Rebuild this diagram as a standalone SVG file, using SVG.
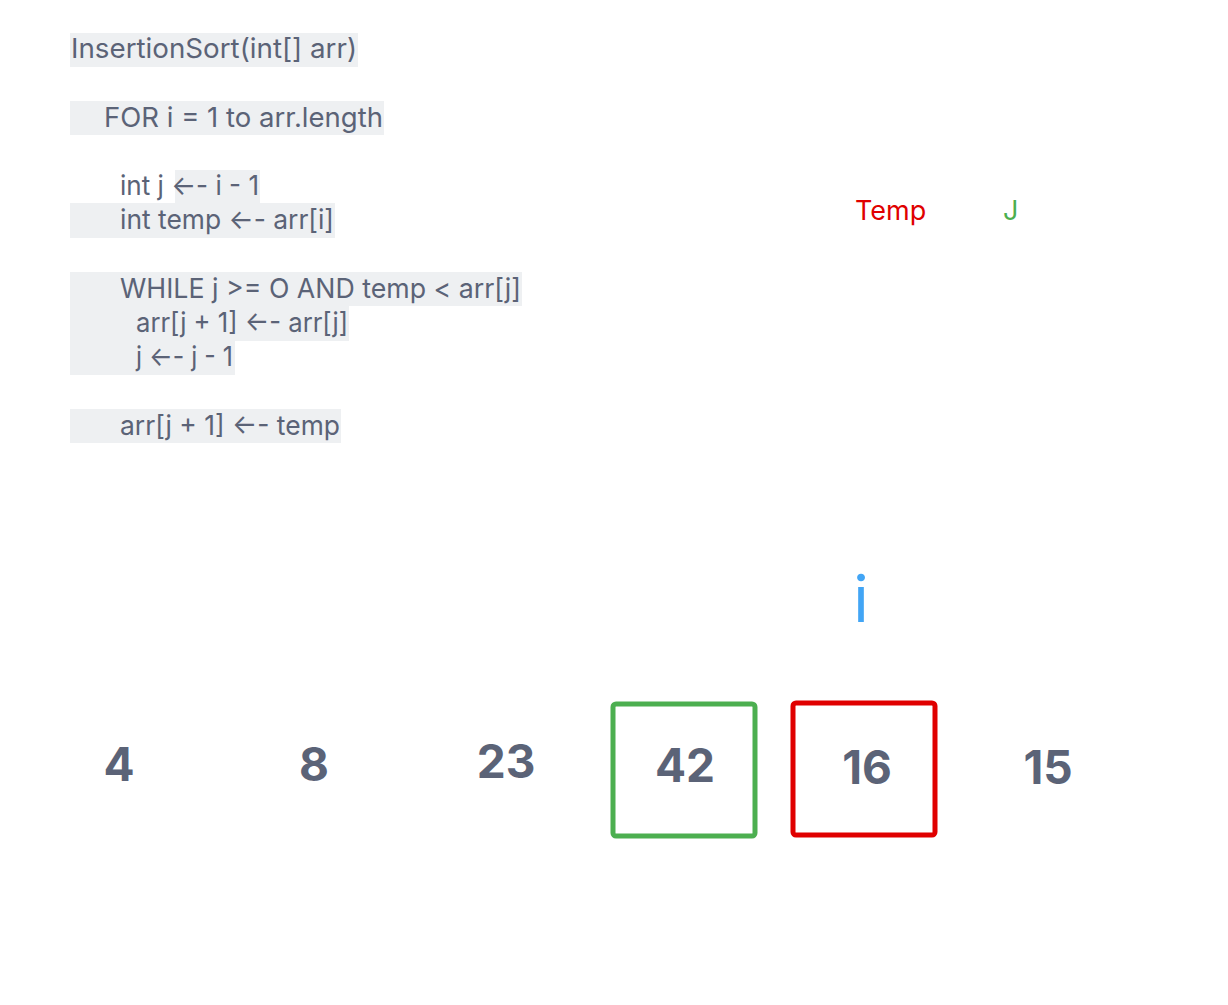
<svg xmlns="http://www.w3.org/2000/svg" width="1228" height="1005" viewBox="0 0 1228 1005">
<style>
.code{font-family:Inter,"Noto Sans",sans-serif;font-size:27.5px;fill:#5b6377}
.hl{fill:#eef0f2}
.num{font-family:Inter,"Liberation Sans",sans-serif;font-size:46px;font-weight:700;fill:#5b6377;text-anchor:middle}
.box{fill:none;stroke-width:5}
</style>
<rect width="1228" height="1005" fill="#ffffff"/>
<g id="code">
<rect class="hl" x="70" y="33" width="288" height="34"/>
<rect class="hl" x="70" y="101" width="314" height="34"/>
<rect class="hl" x="175" y="170" width="85" height="34"/>
<rect class="hl" x="70" y="203" width="265" height="35"/>
<rect class="hl" x="70" y="272" width="452" height="34"/>
<rect class="hl" x="70" y="306" width="279" height="35"/>
<rect class="hl" x="70" y="340" width="165" height="35"/>
<rect class="hl" x="70" y="409" width="271" height="34"/>
<text class="code" x="71" y="58" textLength="286" lengthAdjust="spacingAndGlyphs">InsertionSort(int[] arr)</text>
<text class="code" x="104" y="127" textLength="279" lengthAdjust="spacingAndGlyphs">FOR i = 1 to arr.length</text>
<text class="code" x="120" y="195" textLength="139" lengthAdjust="spacingAndGlyphs">int j ←- i - 1</text>
<text class="code" x="120" y="229" textLength="214" lengthAdjust="spacingAndGlyphs">int temp ←- arr[i]</text>
<text class="code" x="120" y="298" textLength="401" lengthAdjust="spacingAndGlyphs">WHILE j &gt;= O AND temp &lt; arr[j]</text>
<text class="code" x="136" y="332" textLength="212" lengthAdjust="spacingAndGlyphs">arr[j + 1] ←- arr[j]</text>
<text class="code" x="136" y="366" textLength="97" lengthAdjust="spacingAndGlyphs">j ←- j - 1</text>
<text class="code" x="120" y="435" textLength="220" lengthAdjust="spacingAndGlyphs">arr[j + 1] ←- temp</text>
</g>
<g id="labels">
<text x="855" y="220" font-family="Inter,sans-serif" font-size="27" fill="#e00000">Temp</text>
<text x="1003" y="220" font-family="Inter,sans-serif" font-size="27" fill="#4caf50">J</text>
<text x="861" y="622" font-family="Inter,sans-serif" font-size="64" fill="#42a5f5" text-anchor="middle">i</text>
</g>
<g id="cells">
<g id="c0"><text class="num" x="119" y="781">4</text></g>
<g id="c1"><text class="num" x="314" y="781">8</text></g>
<g id="c2"><text class="num" x="506" y="778">23</text></g>
<g id="c3"><rect class="box" x="613" y="704" width="142" height="132" rx="3" stroke="#4caf50"/><text class="num" x="685" y="782">42</text></g>
<g id="c4"><rect class="box" x="793" y="703" width="142" height="132" rx="3" stroke="#e00000"/><text class="num" x="867" y="784">16</text></g>
<g id="c5"><text class="num" x="1048" y="784">15</text></g>
</g>
</svg>
